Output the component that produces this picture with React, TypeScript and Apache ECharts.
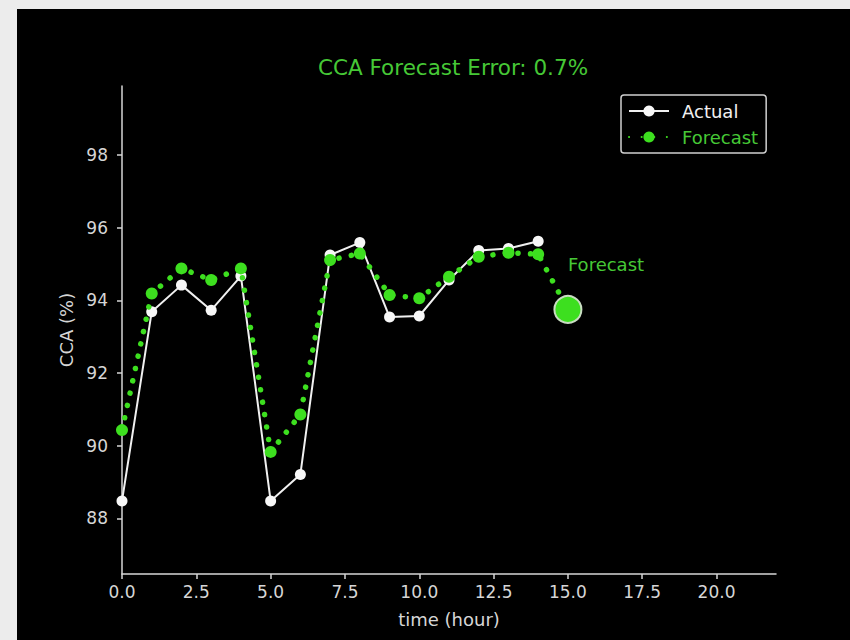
import React, { useEffect, useRef } from "react";
import * as echarts from "echarts";

const hours = [0, 1, 2, 3, 4, 5, 6, 7, 8, 9, 10, 11, 12, 13, 14];
const actual = [88.48, 93.69, 94.42, 93.73, 94.67, 88.48, 89.21, 95.25, 95.59, 93.54, 93.57, 94.56, 95.37, 95.43, 95.63];
const forecastHours = [0, 1, 2, 3, 4, 5, 6, 7, 8, 9, 10, 11, 12, 13, 14, 15];
const forecast = [90.43, 94.19, 94.88, 94.56, 94.88, 89.83, 90.86, 95.11, 95.29, 94.15, 94.06, 94.65, 95.2, 95.31, 95.27, 93.75];
const xTicks = [0, 2.5, 5, 7.5, 10, 12.5, 15, 17.5, 20];
const yTicks = [88, 90, 92, 94, 96, 98];
const titleText = "CCA Forecast Error: 0.7%";

const GREEN = "#3ddf1f";
const GREEN_TEXT = "#46c836";
const AXIS = "#d6d6d6";
const FONT = "DejaVu Sans";

export default function App() {
  const ref = useRef<HTMLDivElement>(null);
  useEffect(() => {
    if (!ref.current) return;
    const chart = echarts.init(ref.current, undefined, { renderer: "svg" });
    const last = forecastHours.length - 1;
    chart.setOption({
      animation: false,
      backgroundColor: "transparent",
      title: {
        text: titleText,
        left: 448,
        top: 51,
        textAlign: "center",
        textStyle: { color: GREEN_TEXT, fontSize: 21.5, fontWeight: "normal", fontFamily: FONT },
      },
      legend: {
        orient: "vertical",
        left: 621,
        top: 95,
        padding: [7, 8, 7, 7],
        itemGap: 8,
        itemWidth: 40,
        itemHeight: 14,
        borderColor: "#cfcfcf",
        borderWidth: 1.5,
        borderRadius: 3,
        backgroundColor: "#000",
        textStyle: { fontSize: 18, fontFamily: FONT, padding: [0, 0, 0, 8] },
        data: [
          { name: "Actual", textStyle: { color: "#f0f0f0" } },
          { name: "Forecast", textStyle: { color: GREEN_TEXT } },
        ],
      },
      grid: { left: 122, top: 86, right: 74, bottom: 66 },
      xAxis: {
        type: "value",
        min: 0,
        max: 22,
        name: "time (hour)",
        nameLocation: "middle",
        nameGap: 36,
        nameTextStyle: { color: AXIS, fontSize: 18, fontFamily: FONT },
        axisLine: { show: true, lineStyle: { color: AXIS, width: 1.5 } },
        axisTick: { show: true, length: 5, customValues: xTicks, lineStyle: { color: AXIS, width: 1.5 } },
        axisLabel: {
          customValues: xTicks,
          formatter: (v: number) => v.toFixed(1),
          color: AXIS,
          fontSize: 17,
          fontFamily: FONT,
          margin: 9,
        },
        splitLine: { show: false },
      },
      yAxis: {
        type: "value",
        min: 86.47,
        max: 99.9,
        name: "CCA (%)",
        nameLocation: "middle",
        nameGap: 45,
        nameRotate: 90,
        nameTextStyle: { color: AXIS, fontSize: 18, fontFamily: FONT },
        axisLine: { show: true, lineStyle: { color: AXIS, width: 1.5 } },
        axisTick: { show: true, length: 5, customValues: yTicks, lineStyle: { color: AXIS, width: 1.5 } },
        axisLabel: {
          customValues: yTicks,
          formatter: (v: number) => String(v),
          color: AXIS,
          fontSize: 17,
          fontFamily: FONT,
          margin: 14,
        },
        splitLine: { show: false },
      },
      series: [
        {
          name: "Actual",
          type: "line",
          z: 2,
          data: hours.map((h, i) => [h, actual[i]]),
          symbol: "circle",
          symbolSize: 11,
          itemStyle: { color: "#f7f7f7" },
          lineStyle: { color: "#f0f0f0", width: 2 },
        },
        {
          name: "Forecast",
          type: "line",
          z: 3,
          data: forecastHours.map((h, i) =>
            i === last
              ? {
                  value: [h, forecast[i]],
                  symbolSize: 27,
                  itemStyle: { color: GREEN, borderColor: "#c9dcc2", borderWidth: 2 },
                  label: {
                    show: true,
                    formatter: "Forecast",
                    position: "top",
                    align: "left",
                    offset: [0, -16],
                    color: GREEN_TEXT,
                    fontSize: 18,
                    fontFamily: FONT,
                  },
                }
              : [h, forecast[i]]
          ),
          symbol: "circle",
          symbolSize: 12,
          itemStyle: { color: GREEN },
          lineStyle: { color: GREEN, width: 5.5, type: [0.1, 12.5], cap: "round" },
        },
      ],
    });
    return () => chart.dispose();
  }, []);
  return (
    <div style={{ position: "fixed", left: 0, top: 0, width: 850, height: 640, background: "#ececec" }}>
      <div style={{ position: "absolute", left: 17, top: 9, width: 833, height: 631, background: "#000" }} />
      <div ref={ref} style={{ position: "absolute", left: 0, top: 0, width: 850, height: 640 }} />
    </div>
  );
}
